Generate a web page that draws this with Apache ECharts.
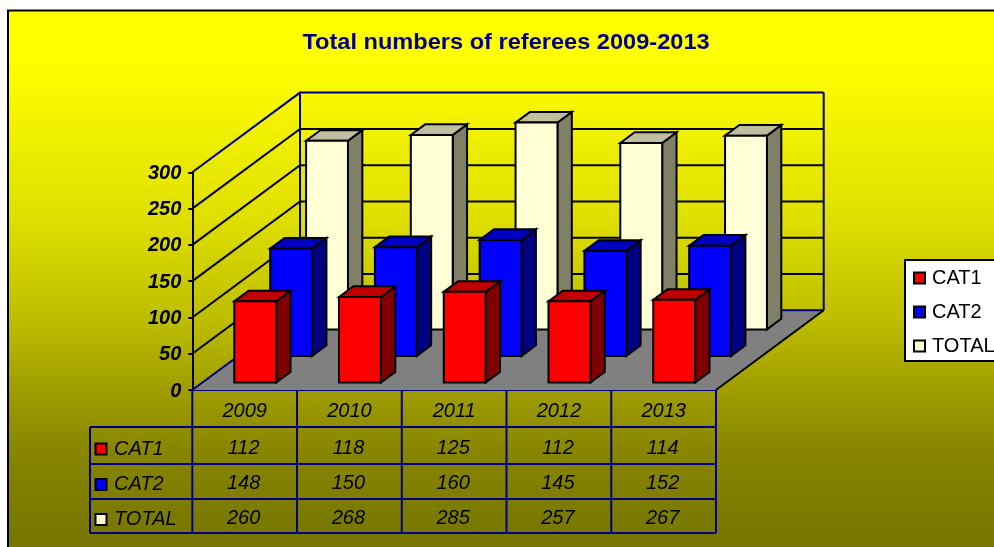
<!DOCTYPE html>
<html>
<head>
<meta charset="utf-8">
<title>Total numbers of referees 2009-2013</title>
<style>
  html, body { margin: 0; padding: 0; background: #fff; overflow: hidden; }
  #chart { width: 994px; height: 547px; }
</style>
</head>
<body>
<div id="chart"></div>
<script src="https://cdn.jsdelivr.net/npm/echarts@6/dist/echarts.min.js"></script>
<script>
const chartTitle = 'Total numbers of referees 2009-2013'
const years = ['2009', '2010', '2011', '2012', '2013']
const cat1 = [112, 118, 125, 112, 114]
const cat2 = [148, 150, 160, 145, 152]
const total = [260, 268, 285, 257, 267]
const seriesNames = ['CAT1', 'CAT2', 'TOTAL']
const yTicks = [0, 50, 100, 150, 200, 250, 300]

const FONT = '"Liberation Sans", Arial, sans-serif'
const NAVY = '#000080'

// depth of the floor in pixels, oblique projection
const DEPTH_X = 107.7
const DEPTH_Y = -79.7

const faceColors = [
  { front: '#ff0000', top: '#c00000', side: '#800000' },
  { front: '#0000ff', top: '#0000c0', side: '#000080' },
  { front: '#ffffd5', top: '#bfbfa0', side: '#808066' }
]

// bar box, row = position front to back
const barRenderer = (row) => (params, api) => {
  const c = api.coord([api.value(0), api.value(1)])
  const base = api.coord([api.value(0), 0])
  const w = api.size([1, 0])[0] * 0.4
  const f = (row + 0.28) / 3
  const d = 0.4 / 3
  const ox = DEPTH_X * f
  const oy = DEPTH_Y * f
  const dx = DEPTH_X * d
  const dy = DEPTH_Y * d
  const l = c[0] - w / 2 + ox + 0.5
  const r = c[0] + w / 2 + ox + 0.5
  const t = c[1] + oy
  const b = base[1] + oy
  const colors = faceColors[row]
  const line = { stroke: '#000', lineWidth: 2, lineJoin: 'miter' }
  return {
    type: 'group',
    children: [
      { type: 'polygon', shape: { points: [[r, t], [r + dx, t + dy], [r + dx, b + dy], [r, b]] }, style: { fill: colors.side, ...line } },
      { type: 'polygon', shape: { points: [[l, t], [l + dx, t + dy], [r + dx, t + dy], [r, t]] }, style: { fill: colors.top, ...line } },
      { type: 'rect', shape: { x: l, y: t, width: w, height: b - t }, style: { fill: colors.front, ...line } }
    ]
  }
}

const barSeries = (name, values, row) => ({
  name,
  type: 'custom',
  coordinateSystem: 'cartesian2d',
  z: 10 - row,
  clip: false,
  silent: true,
  itemStyle: { color: faceColors[row].front },
  encode: { x: 0, y: 1 },
  data: values.map((v, i) => [i, v]),
  renderItem: barRenderer(row)
})

// floor, back wall and side wall gridlines
const wallRenderer = (params, api) => {
  const v = api.value(1)
  const band = api.size([1, 0])[0]
  const x0 = api.coord([0, 0])[0] - band / 2
  const x1 = api.coord([years.length - 1, 0])[0] + band / 2
  const y = api.coord([0, v])[1]
  const isEdge = v === yTicks[0] || v === yTicks[yTicks.length - 1]
  const children = []
  if (v === yTicks[0]) {
    children.push({
      type: 'polygon',
      shape: { points: [[x0, y], [x0 + DEPTH_X, y + DEPTH_Y], [x1 + DEPTH_X, y + DEPTH_Y], [x1, y]] },
      style: { fill: '#808080' }
    })
    const top = api.coord([0, yTicks[yTicks.length - 1]])[1] + DEPTH_Y
    children.push({
      type: 'polyline',
      shape: { points: [[x0 + DEPTH_X, y + DEPTH_Y], [x0 + DEPTH_X, top]] },
      style: { stroke: NAVY, lineWidth: 2, fill: null }
    })
    children.push({
      type: 'polyline',
      shape: { points: [[x1 + DEPTH_X, y + DEPTH_Y], [x1 + DEPTH_X, top]] },
      style: { stroke: NAVY, lineWidth: 2, fill: null }
    })
  }
  children.push({
    type: 'polyline',
    shape: { points: [[x0, y], [x0 + DEPTH_X, y + DEPTH_Y], [x1 + DEPTH_X, y + DEPTH_Y]] },
    style: { stroke: isEdge ? NAVY : '#000', lineWidth: 2, fill: null }
  })
  if (v === yTicks[0]) {
    children.push({
      type: 'line',
      shape: { x1: x1, y1: y, x2: x1 + DEPTH_X, y2: y + DEPTH_Y },
      style: { stroke: '#000', lineWidth: 2 }
    })
  }
  return { type: 'group', children }
}

// table rows under the axis, pixel offsets below the zero line
const rowLines = [37, 74, 109, 143]
const rowCentres = [58, 93.5, 128.5]
const tableLeft = 90
const tableValues = [cat1, cat2, total]

const tableRenderer = (params, api) => {
  const cat = api.value(0)
  const rowIdx = api.value(2)
  const c = api.coord([cat, 0])
  const band = api.size([1, 0])[0]
  const textStyle = {
    font: 'italic 20px ' + FONT,
    fill: '#000',
    align: 'center',
    verticalAlign: 'middle',
    textAlign: 'center',
    textVerticalAlign: 'middle'
  }
  const children = [{
    type: 'text',
    style: { ...textStyle, x: c[0] - 1, y: c[1] + rowCentres[rowIdx], text: String(tableValues[rowIdx][cat]) }
  }]
  if (cat === 0) {
    const left = c[0] - band / 2
    const key = c[1] + rowCentres[rowIdx] + 1
    children.push({
      type: 'rect',
      shape: { x: tableLeft + 5.5, y: key - 5.5, width: 11, height: 11 },
      style: { fill: faceColors[rowIdx].front, stroke: '#000', lineWidth: 2 }
    })
    children.push({
      type: 'text',
      style: { ...textStyle, align: 'left', textAlign: 'left', x: tableLeft + 24, y: c[1] + rowCentres[rowIdx] + 1, text: seriesNames[rowIdx] }
    })
    if (rowIdx === 0) {
      children.push({
        type: 'line',
        shape: { x1: tableLeft, y1: c[1] + rowLines[0], x2: tableLeft, y2: c[1] + rowLines[3] },
        style: { stroke: NAVY, lineWidth: 2 }
      })
      rowLines.forEach((dy) => {
        children.push({
          type: 'line',
          shape: { x1: tableLeft, y1: c[1] + dy, x2: left + band * years.length, y2: c[1] + dy },
          style: { stroke: NAVY, lineWidth: 2 }
        })
      })
      for (let i = 0; i <= years.length; i++) {
        children.push({
          type: 'line',
          shape: { x1: left + band * i, y1: c[1], x2: left + band * i, y2: c[1] + rowLines[3] },
          style: { stroke: NAVY, lineWidth: 2 }
        })
      }
    }
  }
  return { type: 'group', children }
}

const tableData = []
tableValues.forEach((vals, r) => {
  vals.forEach((v, i) => tableData.push([i, 0, r]))
})

const chart = echarts.init(document.getElementById('chart'), null, { renderer: 'canvas' })

chart.setOption({
  animation: false,
  backgroundColor: '#fff',
  textStyle: { fontFamily: FONT },
  graphic: [{
    type: 'rect',
    z: -10,
    silent: true,
    shape: { x: 8, y: 10.5, width: 1000, height: 550 },
    style: {
      stroke: '#000',
      lineWidth: 2,
      fill: {
        type: 'linear', x: 0, y: 0, x2: 0, y2: 1,
        colorStops: [
          { offset: 0, color: '#ffff00' },
          { offset: 0.09, color: '#ffff00' },
          { offset: 0.372, color: '#e0e000' },
          { offset: 0.559, color: '#bebe00' },
          { offset: 0.685, color: '#a09e00' },
          { offset: 0.808, color: '#868400' },
          { offset: 1, color: '#737300' }
        ]
      }
    }
  }, {
    // title is stretched a little, the original has wide letter spacing
    type: 'text',
    x: 506,
    y: 43,
    scaleX: 1.072,
    silent: true,
    style: {
      text: chartTitle,
      font: 'bold 22px ' + FONT,
      fill: NAVY,
      align: 'center',
      verticalAlign: 'middle',
      textAlign: 'center',
      textVerticalAlign: 'middle'
    }
  }],
  legend: {
    data: seriesNames,
    orient: 'vertical',
    left: 905,
    top: 260,
    icon: 'rect',
    itemWidth: 11,
    itemHeight: 11,
    itemGap: 14,
    padding: [8, 30, 5, 8],
    backgroundColor: '#fff',
    borderColor: '#000',
    borderWidth: 2,
    selectedMode: false,
    itemStyle: { borderColor: '#000', borderWidth: 2 },
    textStyle: { color: '#000', fontSize: 20, fontFamily: FONT, padding: [2, 0, 0, 2] }
  },
  grid: { left: 192.3, top: 172.3, width: 523.7, height: 217.7, containLabel: false },
  xAxis: {
    type: 'category',
    data: years,
    axisLine: { lineStyle: { color: NAVY, width: 2 } },
    axisTick: { show: false },
    axisLabel: { margin: 11, color: '#000', fontStyle: 'italic', fontSize: 20, fontFamily: FONT }
  },
  yAxis: {
    type: 'value',
    min: 0,
    max: 300,
    interval: 50,
    axisLine: { show: true, lineStyle: { color: '#000', width: 2 } },
    axisTick: { show: true, length: 4, lineStyle: { color: '#000', width: 2 } },
    splitLine: { show: false },
    axisLabel: { margin: 11, verticalAlign: 'top', lineHeight: 2, color: '#000', fontStyle: 'italic', fontWeight: 'bold', fontSize: 20, fontFamily: FONT }
  },
  series: [
    {
      name: 'walls',
      type: 'custom',
      coordinateSystem: 'cartesian2d',
      z: 1,
      clip: false,
      silent: true,
      encode: { x: 0, y: 1 },
      data: yTicks.map((v) => [0, v]),
      renderItem: wallRenderer
    },
    barSeries(seriesNames[0], cat1, 0),
    barSeries(seriesNames[1], cat2, 1),
    barSeries(seriesNames[2], total, 2),
    {
      name: 'table',
      type: 'custom',
      coordinateSystem: 'cartesian2d',
      z: 3,
      clip: false,
      silent: true,
      encode: { x: 0, y: 1 },
      data: tableData,
      renderItem: tableRenderer
    }
  ]
})
</script>
</body>
</html>
